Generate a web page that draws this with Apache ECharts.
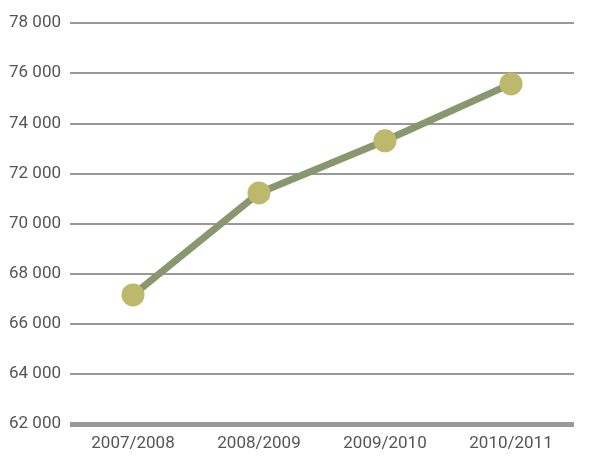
<!DOCTYPE html>
<html>
<head>
<meta charset="utf-8">
<script src="https://cdn.jsdelivr.net/npm/echarts@6/dist/echarts.min.js"></script>
<style>html,body{margin:0;padding:0;background:#fff;}#c{width:590px;height:460px;}</style>
</head>
<body>
<div id="c"></div>
<script>
var categories = ['2007/2008', '2008/2009', '2009/2010', '2010/2011'];
var values = [67150, 71220, 73300, 75570];
var yMin = 62000, yMax = 78000, yStep = 2000;

var chart = echarts.init(document.getElementById('c'));
chart.setOption({
  animation: false,
  backgroundColor: '#ffffff',
  grid: { left: 70, right: 16, top: 23, bottom: 36, containLabel: false },
  xAxis: {
    type: 'category',
    data: categories,
    boundaryGap: true,
    axisLine: { show: true, lineStyle: { color: '#999999', width: 5, cap: 'butt' } },
    axisTick: { show: false },
    axisLabel: { color: '#555555', fontSize: 17, fontFamily: 'Roboto', margin: 11 }
  },
  yAxis: {
    type: 'value',
    min: yMin, max: yMax, interval: yStep,
    axisLine: { show: false },
    axisTick: { show: false },
    splitLine: { lineStyle: { color: '#777777', width: 1.5 } },
    axisLabel: {
      color: '#555555', fontSize: 17, fontFamily: 'Roboto', margin: 9,
      formatter: function (v) { return String(v).replace(/\B(?=(\d{3})+(?!\d))/g, ' '); }
    }
  },
  series: [{
    type: 'line',
    data: values,
    symbol: 'circle',
    symbolSize: 23,
    lineStyle: { color: '#89976f', width: 7 },
    itemStyle: { color: '#bcb86c' },
    z: 3
  }]
});
</script>
</body>
</html>
